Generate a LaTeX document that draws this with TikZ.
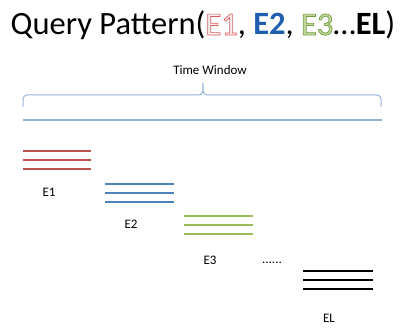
\documentclass[tikz,border=0pt]{standalone}
\usepackage{fontspec}
\setmainfont{Carlito}
\definecolor{evred}{HTML}{C0504D}
\definecolor{evblue}{HTML}{4F81BD}
\definecolor{evgreen}{HTML}{9BBB59}
\definecolor{brace}{HTML}{95B3D7}
\definecolor{bluedark}{HTML}{1F5FB0}
% outlined letters: fill colour from \color, stroke colour given as RGB
\newcommand{\outlinedtext}[3]{{\color{#1}\special{pdf:literal direct #2 RG 2 Tr 0.7 w}#3\special{pdf:literal direct 0 Tr}}}
\tikzset{
  evline/.style={line width=1.6pt},
  evlabel/.style={font=\fontsize{13}{15}\selectfont, anchor=base, inner sep=0pt},
}
\begin{document}
\begin{tikzpicture}[x=1pt,y=-1pt]
\useasboundingbox (0,0) rectangle (406,328);

% title
\node (title) [anchor=base, inner sep=0pt, font=\fontsize{32.5}{38}\selectfont] at (203,35)
 {Query Pattern(\outlinedtext{red!6}{0.85 0.35 0.35}{E1}, {\bfseries\color{bluedark}E2}, \outlinedtext{evgreen!60}{0.45 0.62 0.25}{E3}\ldots{\bfseries\color{black}EL})};

% time window brace
\node (tw) [evlabel] at (210,75) {Time Window};
\coordinate (bl) at (23,107);
\coordinate (br) at (381,107);
\coordinate (tip) at (203,83);
\draw[brace, line width=1pt]
  (bl) -- ++(0,-8) to[out=90,in=180] ++(4,-4) -- (199,95)
  to[out=0,in=-90] (tip) to[out=-90,in=180] (207,95)
  -- (377,95) to[out=0,in=90] ++(4,4) -- (br);
\coordinate (axl) at (23,120);
\coordinate (axr) at (382,120);
\draw[brace, line width=1.2pt] (axl) -- (axr);

% event E1
\foreach \yy in {151,160,169} \draw[evline, evred] (23,\yy) -- (91,\yy);
\node (e1) [evlabel] at (49,197) {E1};
% event E2
\foreach \yy in {184,193,202} \draw[evline, evblue] (105,\yy) -- (174,\yy);
\node (e2) [evlabel] at (131,229) {E2};
% event E3
\foreach \yy in {216,225,234} \draw[evline, evgreen] (184,\yy) -- (253,\yy);
\node (e3) [evlabel] at (210,264) {E3};
\node (dots) [evlabel] at (272,263) {......};
% event EL
\foreach \yy in {271,280,289} \draw[line width=2.4pt, black] (303,\yy) -- (373,\yy);
\node (el) [evlabel] at (329,322) {EL};
\end{tikzpicture}
\end{document}
